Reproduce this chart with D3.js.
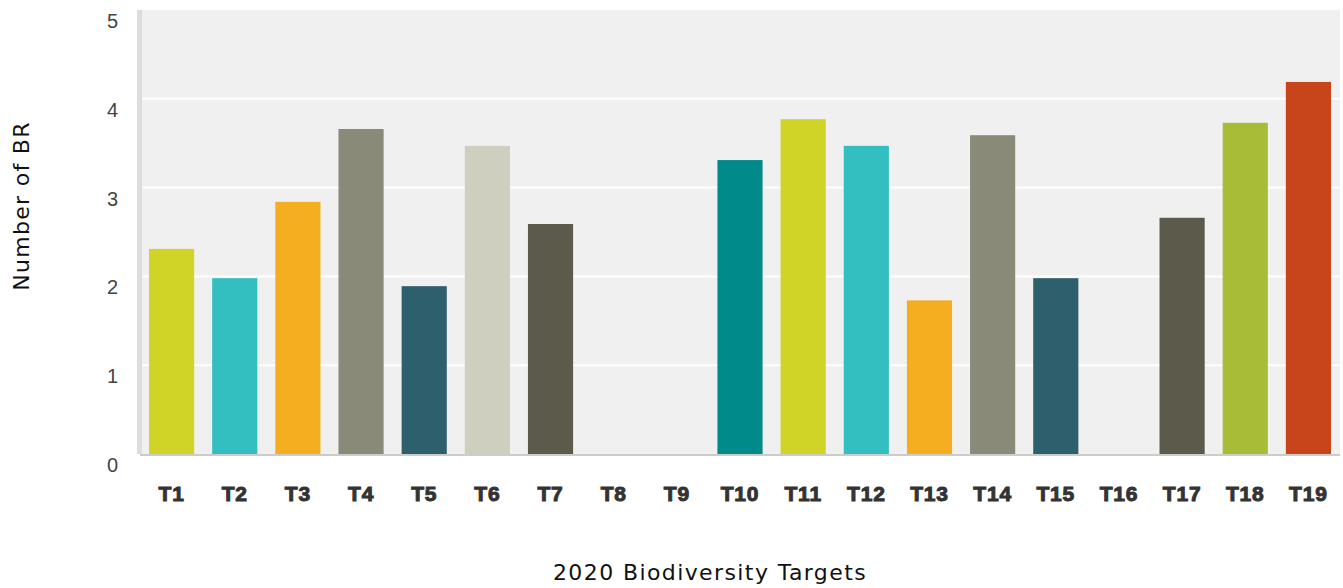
<!DOCTYPE html>
<html>
<head>
<meta charset="utf-8">
<script src="https://cdn.jsdelivr.net/npm/d3@7"></script>
<style>
  body { margin: 0; background: #fff; }
  svg { display: block; }
</style>
</head>
<body>
<div id="vis1"></div>
<script>
// bar chart: number of BR per 2020 biodiversity target

const FRAME_WIDTH = 1343;
const FRAME_HEIGHT = 588;
const PLOT = {left: 140, right: 1340, top: 10, bottom: 454};

const targets = ["T1","T2","T3","T4","T5","T6","T7","T8","T9","T10",
                 "T11","T12","T13","T14","T15","T16","T17","T18","T19"];
const values = [2.31, 1.98, 2.84, 3.66, 1.89, 3.47, 2.59, 0, 0, 3.31,
                3.77, 3.47, 1.73, 3.59, 1.98, 0, 2.66, 3.73, 4.19];
const colors = ["#cfd427","#33bec0","#f5ae20","#8a8a78","#2e5f6d","#cfcfbf","#5c5a4a","#8a8a78","#8a8a78","#008a8a",
                "#cfd427","#33bec0","#f5ae20","#8a8a78","#2e5f6d","#8a8a78","#5c5a4a","#a8bc38","#c8441a"];
const yTicks = [0, 1, 2, 3, 4, 5];

const FRAME = d3.select("#vis1")
  .append("svg")
    .attr("width", FRAME_WIDTH)
    .attr("height", FRAME_HEIGHT);

const X_SCALE = d3.scaleBand()
  .domain(targets)
  .range([PLOT.left, PLOT.right])
  .paddingInner(0.285)
  .paddingOuter(0.1425);

const Y_SCALE = d3.scaleLinear()
  .domain([0, 5])
  .range([PLOT.bottom, PLOT.top]);

// plot background
FRAME.append("rect")
  .attr("x", PLOT.left)
  .attr("y", PLOT.top)
  .attr("width", PLOT.right - PLOT.left)
  .attr("height", PLOT.bottom - PLOT.top)
  .attr("fill", "#f0f0f0");

// gridlines
FRAME.selectAll(".grid")
  .data(yTicks.filter(d => d > 0 && d < 5))
  .enter()
  .append("line")
    .attr("x1", PLOT.left)
    .attr("x2", PLOT.right)
    .attr("y1", d => Y_SCALE(d))
    .attr("y2", d => Y_SCALE(d))
    .attr("stroke", "#ffffff")
    .attr("stroke-width", 2);

// left edge band
FRAME.append("rect")
  .attr("x", 137)
  .attr("y", PLOT.top)
  .attr("width", 5)
  .attr("height", PLOT.bottom - PLOT.top)
  .attr("fill", "#dddddd");

// bars
FRAME.selectAll(".bar")
  .data(targets)
  .enter()
  .append("rect")
    .attr("x", d => X_SCALE(d))
    .attr("y", (d, i) => Y_SCALE(values[i]))
    .attr("width", X_SCALE.bandwidth())
    .attr("height", (d, i) => Y_SCALE(0) - Y_SCALE(values[i]))
    .attr("fill", (d, i) => colors[i]);

// baseline
FRAME.append("line")
  .attr("x1", 140)
  .attr("x2", PLOT.right)
  .attr("y1", Y_SCALE(0) + 1)
  .attr("y2", Y_SCALE(0) + 1)
  .attr("stroke", "#cccccc")
  .attr("stroke-width", 2);

// y tick labels (sit just under their gridline)
FRAME.selectAll(".ytick")
  .data(yTicks)
  .enter()
  .append("text")
    .attr("x", 118)
    .attr("y", d => Y_SCALE(d) + 18)
    .attr("text-anchor", "end")
    .attr("font-family", "Liberation Sans, Arial, sans-serif")
    .attr("font-size", 20)
    .attr("fill", "#444")
    .text(d => d);

// x tick labels
const x_axis = d3.axisBottom(X_SCALE).tickSize(0).tickPadding(0);
const gx = FRAME.append("g")
  .attr("transform", "translate(0," + 501 + ")")
  .call(x_axis);
gx.select(".domain").remove();
gx.selectAll("text")
  .attr("dy", 0)
  .attr("y", 0)
  .attr("font-family", "Liberation Sans, Arial, sans-serif")
  .attr("font-weight", "bold")
  .attr("font-size", 21)
  .attr("letter-spacing", 0.8)
  .attr("fill", "#333")
  .attr("stroke", "#333")
  .attr("stroke-width", 1);

// axis titles
FRAME.append("text")
  .attr("transform", "translate(29,206) rotate(-90)")
  .attr("text-anchor", "middle")
  .attr("font-family", "DejaVu Sans, sans-serif")
  .attr("font-size", 22)
  .attr("letter-spacing", 1.3)
  .attr("fill", "#111")
  .text("Number of BR");

FRAME.append("text")
  .attr("x", 710)
  .attr("y", 580)
  .attr("text-anchor", "middle")
  .attr("font-family", "DejaVu Sans, sans-serif")
  .attr("font-size", 22)
  .attr("letter-spacing", 1.4)
  .attr("fill", "#111")
  .text("2020 Biodiversity Targets");
</script>
</body>
</html>
